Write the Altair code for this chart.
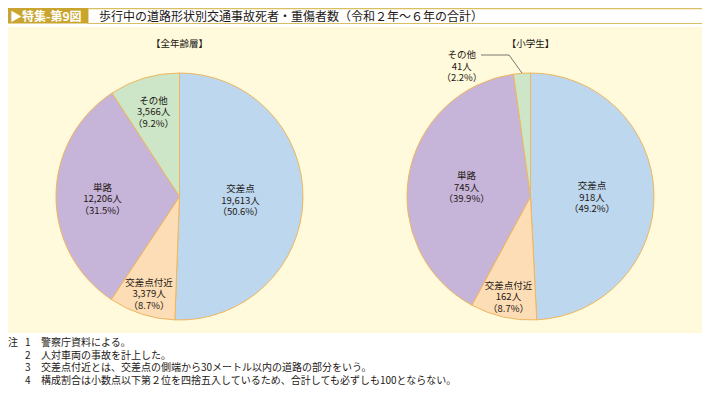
import math
import altair as alt
import pandas as pd

# ---- data ----
groups = ["全年齢層", "小学生"]
subtitles = ["【全年齢層】", "【小学生】"]
categories = ["交差点", "交差点付近", "単路", "その他"]
values_all = [19613, 3379, 12206, 3566]
values_elem = [918, 162, 745, 41]
pct_all = ["50.6", "8.7", "31.5", "9.2"]
pct_elem = ["49.2", "8.7", "39.9", "2.2"]

title_tag = "▶特集-第9図"
title_text = "歩行中の道路形状別交通事故死者・重傷者数（令和２年～６年の合計）"
note_nums = ["1", "2", "3", "4"]
note_texts = [
    "警察庁資料による。",
    "人対車両の事故を計上した。",
    "交差点付近とは、交差点の側端から30メートル以内の道路の部分をいう。",
    "構成割合は小数点以下第２位を四捨五入しているため、合計しても必ずしも100とならない。",
]

colors = ["#BDD7EE", "#FDDDB6", "#C7B4D9", "#CDE6C7"]
FONT = "Noto Sans CJK JP"
INK = "#231815"
M = 8  # page margin: layout positions below are page pixels minus this margin
LH = 11.5


def px(v):
    return v - M


rows = []
for g, vals, pcts in [(groups[0], values_all, pct_all), (groups[1], values_elem, pct_elem)]:
    for i, (c, v, p) in enumerate(zip(categories, vals, pcts)):
        rows.append({
            "group": g, "category": c, "order": i, "value": v,
            "label": f"{c}\n{v:,}人\n（{p}%）",
            "outside": (g == "小学生" and c == "その他"),
        })
df = pd.DataFrame(rows)

base = alt.Chart(df).transform_joinaggregate(
    total="sum(value)", groupby=["group"]
).transform_window(
    cum="sum(value)", groupby=["group"], sort=[alt.SortField("order")]
).transform_calculate(
    start="(datum.cum - datum.value) / datum.total",
    end="datum.cum / datum.total",
    mid="(datum.cum - datum.value / 2) / datum.total",
    share="datum.value / datum.total",
)

xscale = alt.Scale(type="point", domain=groups, range=[px(179.5), px(530.5)], padding=0)
tscale = alt.Scale(domain=[0, 1], range=[0, 2 * math.pi])
CY = px(196.5)

pies = base.mark_arc(radius=123.5, stroke="#EFB65E", strokeWidth=1).encode(
    x=alt.X("group:N", scale=xscale, axis=None),
    y=alt.value(CY),
    theta=alt.Theta("start:Q", scale=tscale),
    theta2="end:Q",
    color=alt.Color("category:N", scale=alt.Scale(domain=categories, range=colors), legend=None),
)

# label distance from the centre, by slice share (small slices push labels outward)
rscale = alt.Scale(domain=[0.0868, 0.092, 0.315, 0.399, 0.506],
                   range=[100, 91, 77, 65, 61], clamp=True, zero=False)

labels_in = base.transform_filter("!datum.outside").mark_text(
    lineBreak="\n", font=FONT, fontSize=9.5, lineHeight=LH, color=INK,
    align="center", baseline="middle", dy=-LH + 3,
).encode(
    x=alt.X("group:N", scale=xscale, axis=None),
    y=alt.value(CY),
    theta=alt.Theta("mid:Q", scale=tscale),
    radius=alt.Radius("share:Q", scale=rscale),
    text="label:N",
)

labels_out = base.transform_filter("datum.outside").mark_text(
    lineBreak="\n", font=FONT, fontSize=9.5, lineHeight=LH, color=INK,
    align="center", baseline="middle", radius=140, dx=-59, dy=10 - LH,
).encode(
    x=alt.X("group:N", scale=xscale, axis=None),
    y=alt.value(CY),
    theta=alt.Theta("mid:Q", scale=tscale),
    text="label:N",
)

one = alt.Chart(pd.DataFrame({"k": [0]}))

leader1 = one.mark_rule(color="#555555", strokeWidth=0.8).encode(
    x=alt.value(px(481)), x2=alt.value(px(509)), y=alt.value(px(55)))
leader2 = one.mark_rule(color="#555555", strokeWidth=0.8).encode(
    x=alt.value(px(509)), x2=alt.value(px(522)), y=alt.value(px(55)), y2=alt.value(px(73)))

cream = one.mark_rect(color="#FFFADC").encode(
    x=alt.value(0), x2=alt.value(px(710)), y=alt.value(px(27)), y2=alt.value(px(333)))
title_box = one.mark_rect(fill="white", stroke="#D9BE62", strokeWidth=1.2).encode(
    x=alt.value(px(88)), x2=alt.value(px(707)), y=alt.value(0.6), y2=alt.value(px(23.5)))
tag_box = one.mark_rect(color="#C9A530").encode(
    x=alt.value(0), x2=alt.value(px(88)), y=alt.value(0), y2=alt.value(px(23.5)))
tag_text = one.mark_text(font=FONT, fontSize=12, fontWeight="bold", color="white",
                         align="left", baseline="middle").encode(
    x=alt.value(px(10)), y=alt.value(px(16.5)), text=alt.value(title_tag))
title_txt = one.mark_text(font=FONT, fontSize=12, color=INK,
                          align="left", baseline="middle").encode(
    x=alt.value(px(99)), y=alt.value(px(16.5)), text=alt.value(title_text))

sub = alt.Chart(pd.DataFrame({"group": groups, "t": subtitles})).mark_text(
    font=FONT, fontSize=9.5, color=INK, baseline="middle").encode(
    x=alt.X("group:N", scale=xscale, axis=None), y=alt.value(px(44)), text="t:N")

notes_df = pd.DataFrame({"n": note_nums, "t": note_texts, "i": [0, 1, 2, 3]})
ny = alt.Y("i:Q", scale=alt.Scale(domain=[0, 3], range=[px(343), px(381)]), axis=None)
notes_head = one.mark_text(font=FONT, fontSize=10, color=INK, align="left",
                           baseline="middle").encode(x=alt.value(0), y=alt.value(px(343)), text=alt.value("注"))
notes_num = alt.Chart(notes_df).mark_text(font=FONT, fontSize=10, color=INK, align="left",
                                          baseline="middle").encode(x=alt.value(px(25)), y=ny, text="n:N")
notes_txt = alt.Chart(notes_df).mark_text(font=FONT, fontSize=10, color=INK, align="left",
                                          baseline="middle").encode(x=alt.value(px(41)), y=ny, text="t:N")

chart = alt.layer(
    cream, title_box, tag_box, tag_text, title_txt, sub,
    pies, labels_in, labels_out, leader1, leader2,
    notes_head, notes_num, notes_txt,
).resolve_scale(y="independent").properties(
    width=694, height=379,
    autosize=alt.AutoSizeParams(type="none"),
    padding=0,
    background="white",
).configure_view(stroke=None)

chart.save("out.html", embed_options={"renderer": "svg", "actions": False})
